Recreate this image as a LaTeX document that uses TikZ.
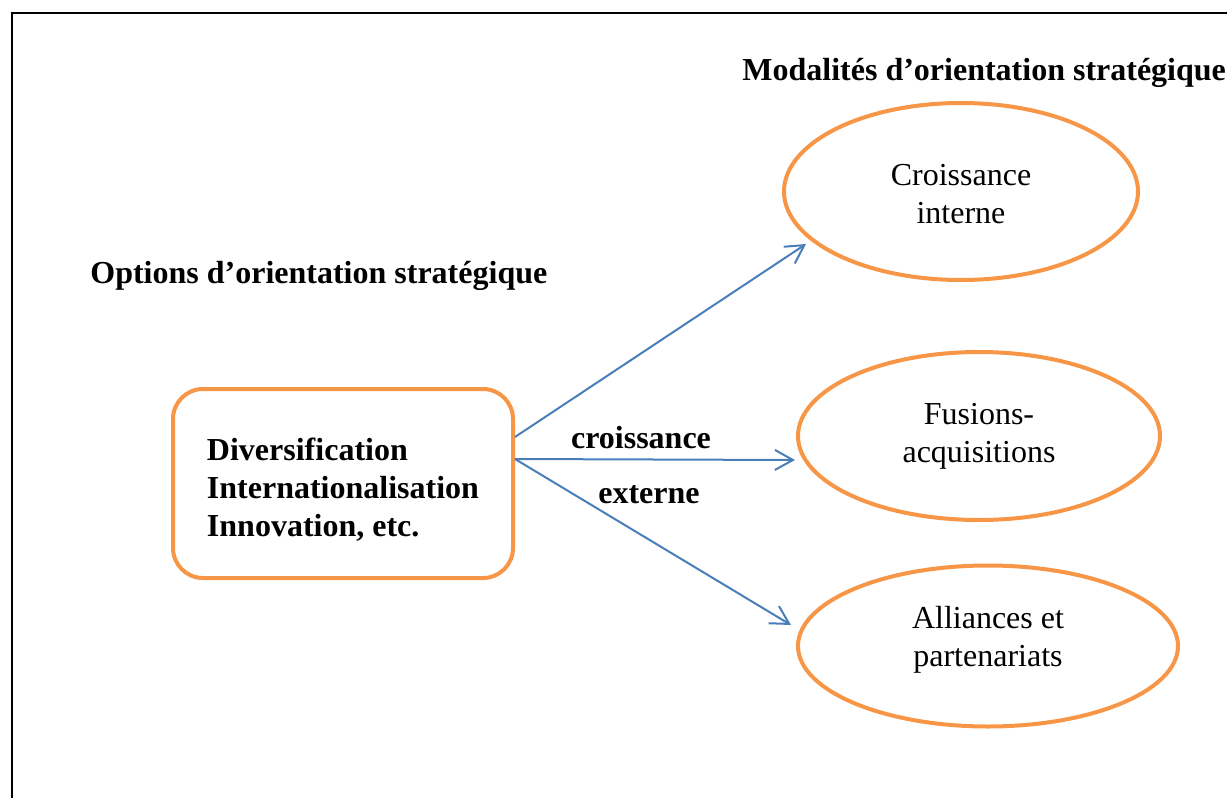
\documentclass[tikz,border=0pt]{standalone}
\usepackage{fontspec}
\setmainfont{Liberation Serif}
\usetikzlibrary{arrows.meta,shapes.geometric}
\definecolor{orangebord}{HTML}{F79646}
\definecolor{bleufleche}{HTML}{4A7EBB}
\begin{document}
\fontsize{16}{19}\selectfont
\begin{tikzpicture}[x=0.5pt, y=-0.5pt,
    modalite/.style={draw=orangebord, line width=2pt, ellipse, inner sep=0pt},
    texte/.style={align=center, inner sep=0pt},
    fleche/.style={draw=bleufleche, line width=1pt, -{Straight Barb[length=9pt,width=10pt]}},
    titre/.style={font=\bfseries, anchor=base west, inner sep=0pt}]
    \clip (0,0) rectangle (1227,798);
    % cadre
    \draw[line width=1.2pt] (12,820) -- (12,13) -- (1240,13);
    \node[titre] (tmod) at (742,80) {Modalités d’orientation stratégique};
    \node[titre] (topt) at (90,283) {Options d’orientation stratégique};
    % options
    \node[draw=orangebord, line width=2pt, rounded corners=15pt, minimum width=170pt,
        minimum height=94.5pt] (opt) at (343,483.5) {};
    \node[texte, align=left, font=\bfseries] (optt) at ([yshift=-3pt]opt)
        {Diversification\\Internationalisation\\Innovation, etc.};
    % modalites
    \node[modalite, minimum width=177pt, minimum height=88.5pt] (ci) at (961,191.5) {};
    \node[modalite, minimum width=181pt, minimum height=84pt] (fa) at (979,436) {};
    \node[modalite, minimum width=190pt, minimum height=80.5pt] (ap) at (988,646) {};
    \node[texte] (cit) at ([yshift=-1.5pt]ci) {Croissance\\interne};
    \node[texte] (fat) at (fa) {Fusions-\\acquisitions};
    \node[texte] (apt) at ([yshift=3pt]ap) {Alliances et\\partenariats};
    % fleches
    \coordinate (o1) at ([yshift=23.25pt]opt.east);
    \coordinate (o2) at ([yshift=12.25pt]opt.east);
    \draw[fleche] (o1) -- ([xshift=12pt,yshift=-26.25pt]ci.west);
    \draw[fleche] (o2) -- ([xshift=-0.5pt,yshift=-12pt]fa.west);
    \draw[fleche] (o2) -- ([xshift=-2.5pt,yshift=10.5pt]ap.west);
    \node[font=\bfseries, anchor=base, inner sep=0pt] (lcr) at (641,448) {croissance};
    \node[font=\bfseries, anchor=base, inner sep=0pt] (lex) at (649,503) {externe};
\end{tikzpicture}
\end{document}
